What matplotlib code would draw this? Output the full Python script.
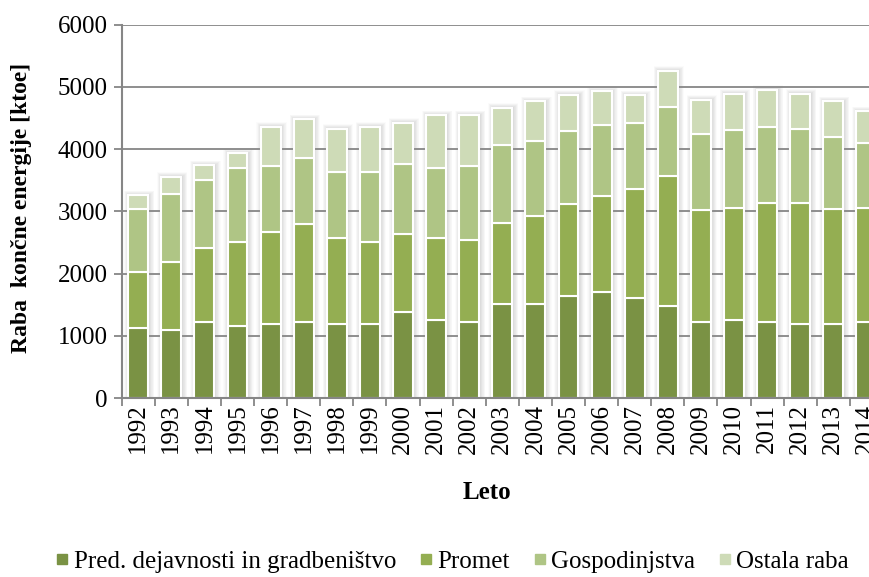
import numpy as np
import matplotlib.pyplot as plt
from matplotlib.lines import Line2D

years = [str(y) for y in range(1992, 2015)]
pred = [1130, 1090, 1225, 1160, 1190, 1215, 1190, 1190, 1385, 1250, 1225, 1510,
        1510, 1640, 1705, 1610, 1475, 1215, 1250, 1215, 1185, 1185, 1215]
promet = [900, 1095, 1190, 1350, 1480, 1580, 1375, 1310, 1245, 1315, 1310, 1310,
          1410, 1470, 1535, 1755, 2090, 1805, 1805, 1925, 1955, 1860, 1840]
gospod = [1015, 1090, 1085, 1180, 1055, 1060, 1060, 1125, 1125, 1125, 1190, 1240,
          1210, 1180, 1150, 1055, 1115, 1215, 1245, 1215, 1190, 1150, 1035]
ostala = [215, 280, 240, 240, 630, 625, 700, 730, 665, 855, 820, 605,
          635, 580, 535, 445, 575, 560, 590, 600, 560, 575, 520]

series = [pred, promet, gospod, ostala]
names = ["Pred. dejavnosti in gradbeništvo", "Promet", "Gospodinjstva", "Ostala raba"]
colors = ["#7a9244", "#94ae52", "#afc585", "#cedbb7"]

plt.rcParams['font.family'] = ['Liberation Serif', 'DejaVu Serif']
grey = "#868686"

fig = plt.figure(figsize=(8.69, 5.77), dpi=100)
ax = fig.add_axes([0.140, 0.310, 0.876, 0.6475])

x = np.arange(len(years))
width = 0.6
total = np.sum(series, axis=0)

# soft shadow around the bars
for k in range(10):
    ax.bar(x + 0.03, total + 8 * k, width=width + 0.035 * k,
           color="#000000", alpha=0.014, linewidth=0, zorder=1)

bottom = np.zeros(len(years))
for vals, c in zip(series, colors):
    ax.bar(x, vals, width=width, bottom=bottom, color=c,
           edgecolor="white", linewidth=1.5, zorder=3)
    bottom += np.array(vals)

ax.set_ylim(0, 6000)
ax.set_xlim(-0.5, len(years) - 0.5)
ax.set_yticks(range(0, 6001, 1000))
ax.yaxis.grid(True, color=grey, linewidth=1.3)
for gl in ax.get_ygridlines():
    gl.set_zorder(2)

ax.set_xticks(x)
ax.set_xticklabels(years, rotation=90, fontsize=18)
ax.set_xticks(np.arange(-0.5, len(years), 1), minor=True)
ax.tick_params(axis='x', which='major', length=0, pad=4)
ax.tick_params(axis='x', which='minor', length=6, width=1.3, color=grey, direction='out')
ax.tick_params(axis='y', length=6, width=1.3, color=grey, labelsize=18, pad=4)

for s in ["top", "right"]:
    ax.spines[s].set_visible(False)
for s in ["left", "bottom"]:
    ax.spines[s].set_color(grey)
    ax.spines[s].set_linewidth(1.5)
    ax.spines[s].set_zorder(4)

fig.text(22 / 869, 0.640, "Raba  končne energije [ktoe]", rotation=90,
         ha='center', va='center', fontsize=17, fontweight='bold')
fig.text(487 / 869, 0.146, "Leto", ha='center', va='center',
         fontsize=18, fontweight='bold')

handles = [Line2D([], [], marker='s', linestyle='none', markersize=7,
                  markerfacecolor=c, markeredgecolor=c) for c in colors]
fig.legend(handles, names, loc='center', bbox_to_anchor=(0.52, 0.026), ncol=4,
           frameon=False, fontsize=18, handletextpad=0.15, columnspacing=0.9,
           handlelength=0.6)

fig.savefig("out.png", dpi=100)
